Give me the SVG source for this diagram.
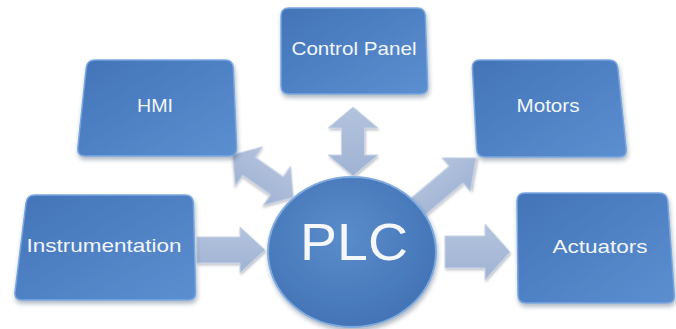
<svg xmlns="http://www.w3.org/2000/svg" width="676" height="329" viewBox="0 0 676 329">
<defs>
<linearGradient id="boxg" x1="0" y1="0" x2="1" y2="1">
<stop offset="0" stop-color="#4374b8"/>
<stop offset="1" stop-color="#5b8fd0"/>
</linearGradient>
<radialGradient id="circg" cx="0.45" cy="0.4" r="0.65">
<stop offset="0" stop-color="#5a8ccb"/>
<stop offset="1" stop-color="#4272b4"/>
</radialGradient>
<linearGradient id="arrg" x1="0" y1="0" x2="0" y2="1">
<stop offset="0" stop-color="#b3c3dd"/>
<stop offset="1" stop-color="#a0b3d3"/>
</linearGradient>
<filter id="sh" x="-10%" y="-10%" width="125%" height="130%">
<feDropShadow dx="1" dy="3" stdDeviation="2" flood-color="#1e3050" flood-opacity="0.35"/>
</filter>
<filter id="ash" x="-20%" y="-20%" width="140%" height="140%">
<feDropShadow dx="1" dy="2" stdDeviation="1.2" flood-color="#556070" flood-opacity="0.35"/>
</filter>
</defs>
<style>
.box{fill:url(#boxg);stroke:#79a6df;stroke-width:1.5;filter:url(#sh)}
.arr{fill:url(#arrg);stroke:#c9d5e8;stroke-width:1;filter:url(#ash)}
.lbl{font-family:"Liberation Sans",Arial,sans-serif;font-size:19px;fill:#f2f6fb;text-anchor:middle}
</style>
<rect width="676" height="329" fill="#ffffff"/>
<g id="connectors">
<polygon class="arr" points="197,237 240,237 240,227 265,250 240,273 240,263 197,263"/>
<polygon class="arr" points="445,236 485,236 485,224 510,252 485,280 485,268 445,268"/>
<polygon class="arr" points="353,107 378,128 364.5,128 364.5,155 378,155 353,176 328,155 341.5,155 341.5,128 328,128"/>
<polygon class="arr" transform="translate(263,176) rotate(35)" points="-37,0 -17,-24 -17,-11 17,-11 17,-24 37,0 17,24 17,11 -17,11 -17,24"/>
<polygon class="arr" transform="translate(414,210) rotate(-40)" points="0,-11 55,-11 55,-22 81,0 55,22 55,11 0,11"/>
</g>
<g id="instrumentation">
<path class="box" d="M35,195 L185,195 Q193,195 193.4,203 L195.6,292 Q196,300 188,300 L22,300 Q14,300 15,292 L26,203 Q27,195 35,195 Z"/>
<text class="lbl" x="104" y="252" textLength="155" lengthAdjust="spacingAndGlyphs">Instrumentation</text>
</g>
<g id="hmi">
<path class="box" d="M95,60 L225,60 Q233,60 233.3,68 L236.7,148 Q237,156 229,156 L85,156 Q77,156 77.8,148 L86.2,68 Q87,60 95,60 Z"/>
<text class="lbl" x="155" y="112" textLength="36" lengthAdjust="spacingAndGlyphs">HMI</text>
</g>
<g id="control-panel">
<path class="box" d="M289,8 L417,8 Q425,8 425.3,16 L427.7,86 Q428,94 420,94 L289,94 Q281,94 281,86 L281,16 Q281,8 289,8 Z"/>
<text class="lbl" x="354" y="55" textLength="125" lengthAdjust="spacingAndGlyphs">Control Panel</text>
</g>
<g id="motors">
<path class="box" d="M480,60 L609,60 Q617,60 617.8,68 L626.2,149 Q627,157 619,157 L485,157 Q477,157 476.6,149 L472.4,68 Q472,60 480,60 Z"/>
<text class="lbl" x="548" y="112" textLength="63" lengthAdjust="spacingAndGlyphs">Motors</text>
</g>
<g id="actuators">
<path class="box" d="M525,193 L659,193 Q667,193 667.7,201 L674.3,295 Q675,303 667,303 L526,303 Q518,303 518,295 L517,201 Q517,193 525,193 Z"/>
<text class="lbl" x="600" y="253" textLength="95" lengthAdjust="spacingAndGlyphs">Actuators</text>
</g>
<g id="plc">
<ellipse cx="352" cy="252" rx="84" ry="75" fill="url(#circg)" stroke="#7faae0" stroke-width="2" filter="url(#sh)"/>
<text x="354" y="260" font-family="Liberation Sans,Arial,sans-serif" font-size="52" fill="#f4f7fb" text-anchor="middle" textLength="108" lengthAdjust="spacingAndGlyphs">PLC</text>
</g>
</svg>
